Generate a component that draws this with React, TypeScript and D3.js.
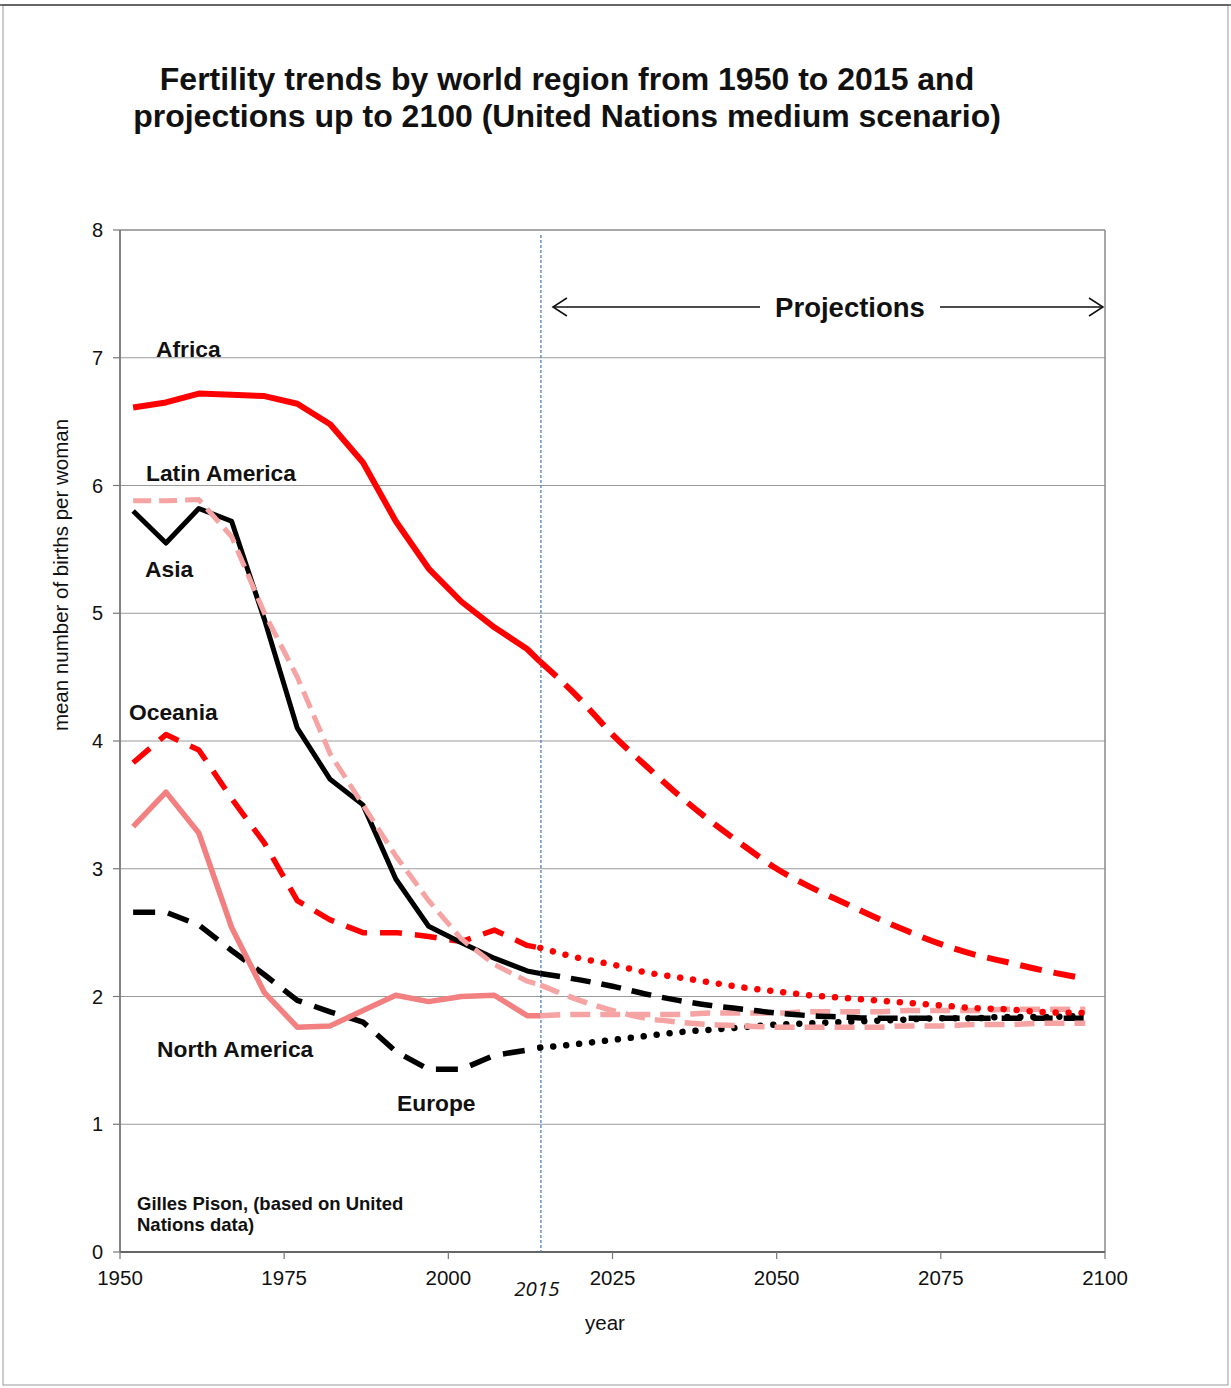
import React from "react";
import * as d3 from "d3";

// ---------- data ----------
const histYears = [1952, 1957, 1962, 1967, 1972, 1977, 1982, 1987, 1992, 1997, 2002, 2007, 2012, 2014];
const projYears = [2014, 2020, 2025, 2030, 2035, 2040, 2045, 2050, 2055, 2060, 2065, 2070, 2075, 2080, 2085, 2090, 2097];

const africaHist = [6.61, 6.65, 6.72, 6.71, 6.70, 6.64, 6.48, 6.18, 5.72, 5.35, 5.09, 4.89, 4.72, 4.62];
const africaProj = [4.62, 4.33, 4.05, 3.81, 3.58, 3.37, 3.18, 3.0, 2.86, 2.74, 2.62, 2.51, 2.41, 2.33, 2.27, 2.21, 2.14];

const latinHist = [5.88, 5.88, 5.89, 5.6, 5.0, 4.5, 3.9, 3.5, 3.1, 2.75, 2.45, 2.25, 2.12, 2.09];
const latinProj = [2.09, 1.97, 1.89, 1.83, 1.8, 1.78, 1.77, 1.76, 1.76, 1.76, 1.76, 1.77, 1.77, 1.78, 1.78, 1.79, 1.79];

const asiaHist = [5.8, 5.55, 5.82, 5.72, 4.95, 4.1, 3.7, 3.5, 2.92, 2.55, 2.42, 2.3, 2.2, 2.18];
const asiaProj = [2.18, 2.13, 2.08, 2.02, 1.97, 1.93, 1.9, 1.87, 1.85, 1.84, 1.83, 1.83, 1.83, 1.83, 1.83, 1.83, 1.83];

const oceaniaHist = [3.83, 4.05, 3.93, 3.55, 3.2, 2.75, 2.6, 2.5, 2.5, 2.47, 2.43, 2.52, 2.4, 2.38];
const oceaniaProj = [2.38, 2.3, 2.25, 2.19, 2.15, 2.11, 2.07, 2.04, 2.01, 1.99, 1.97, 1.95, 1.93, 1.91, 1.9, 1.88, 1.87];

const northAmHist = [3.33, 3.6, 3.28, 2.54, 2.03, 1.76, 1.77, 1.89, 2.01, 1.96, 2.0, 2.01, 1.85, 1.85];
const northAmProj = [1.85, 1.86, 1.86, 1.86, 1.86, 1.87, 1.87, 1.87, 1.88, 1.88, 1.88, 1.89, 1.89, 1.89, 1.9, 1.9, 1.9];

const europeHist = [2.66, 2.66, 2.56, 2.36, 2.17, 1.97, 1.88, 1.8, 1.57, 1.43, 1.43, 1.54, 1.58, 1.6];
const europeProj = [1.6, 1.63, 1.66, 1.69, 1.72, 1.74, 1.76, 1.78, 1.79, 1.8, 1.81, 1.82, 1.83, 1.83, 1.84, 1.84, 1.85];

const xTicks = [1950, 1975, 2000, 2025, 2050, 2075, 2100];
const yTicks = [0, 1, 2, 3, 4, 5, 6, 7, 8];
const divideYear = 2014.1;

// ---------- layout ----------
const W = 1231;
const H = 1388;
const left = 120;
const right = 1105;
const top = 230;
const bottom = 1252;

const RED = "#FF0000";
const PINK_SOLID = "#F28080";
const PINK_DASH = "#F5A3A3";
const BLACK = "#000000";

type Style = { color: string; width: number; dash?: string; cap?: "round" | "butt" };

export default function App() {
  const x = d3.scaleLinear().domain([1950, 2100]).range([left, right]);
  const y = d3.scaleLinear().domain([0, 8]).range([bottom, top]);
  const line = d3
    .line<[number, number]>()
    .x((d) => x(d[0]))
    .y((d) => y(d[1]));
  const smooth = d3
    .line<[number, number]>()
    .x((d) => x(d[0]))
    .y((d) => y(d[1]))
    .curve(d3.curveMonotoneX);

  const zip = (ys: number[], vs: number[]) => ys.map((yr, i) => [yr, vs[i]] as [number, number]);

  const dotted = (color: string): Style => ({ color, width: 6.5, dash: "0.01 13", cap: "round" });

  const series: { hist: number[]; proj: number[]; h: Style; p: Style }[] = [
    { hist: europeHist, proj: europeProj, h: { color: BLACK, width: 5.5, dash: "22 13" }, p: dotted(BLACK) },
    { hist: northAmHist, proj: northAmProj, h: { color: PINK_SOLID, width: 5.5 }, p: { color: PINK_DASH, width: 5.5, dash: "20 10" } },
    { hist: oceaniaHist, proj: oceaniaProj, h: { color: RED, width: 5.5, dash: "22 13" }, p: dotted(RED) },
    { hist: asiaHist, proj: asiaProj, h: { color: BLACK, width: 5 }, p: { color: BLACK, width: 5.5, dash: "20 11" } },
    { hist: latinHist, proj: latinProj, h: { color: PINK_DASH, width: 5, dash: "18 8" }, p: { color: PINK_DASH, width: 5.5, dash: "20 10" } },
    { hist: africaHist, proj: africaProj, h: { color: RED, width: 6 }, p: { color: RED, width: 6, dash: "22 12" } },
  ];

  const font = "'Liberation Sans', Arial, sans-serif";

  const labels = [
    { t: "Africa", x: 156, y: 349 },
    { t: "Latin America", x: 146, y: 473 },
    { t: "Asia", x: 145, y: 569 },
    { t: "Oceania", x: 129, y: 712 },
    { t: "North America", x: 157, y: 1049 },
    { t: "Europe", x: 397, y: 1103 },
  ];

  return (
    <svg
      width={W}
      height={H}
      style={{ position: "absolute", left: 0, top: 0, background: "#fff" }}
      fontFamily={font}
    >
      <rect x={0} y={0} width={W} height={H} fill="#fff" />
      <rect x={3} y={5} width={1225} height={1380} fill="none" stroke="#999" strokeWidth={1} />
      <line x1={0} x2={W} y1={5} y2={5} stroke="#444" strokeWidth={1.5} />

      {/* title */}
      <text x={567} y={90} textAnchor="middle" fontSize={32} fontWeight="bold" fill="#111">
        Fertility trends by world region from 1950 to 2015 and
      </text>
      <text x={567} y={127} textAnchor="middle" fontSize={32} fontWeight="bold" fill="#111">
        projections up to 2100 (United Nations medium scenario)
      </text>

      {/* grid */}
      {yTicks.slice(1, -1).map((v) => (
        <line key={v} x1={left} x2={right} y1={y(v)} y2={y(v)} stroke="#9a9a9a" strokeWidth={1.2} />
      ))}
      <line x1={left} x2={right} y1={y(8)} y2={y(8)} stroke="#8a8a8a" strokeWidth={1.5} />
      <line x1={right} x2={right} y1={y(8)} y2={y(0)} stroke="#8a8a8a" strokeWidth={1.5} />
      <line x1={left} x2={left} y1={y(8)} y2={y(0)} stroke="#777" strokeWidth={1.8} />
      <line x1={left} x2={right} y1={y(0)} y2={y(0)} stroke="#666" strokeWidth={2} />

      {/* y ticks */}
      {yTicks.map((v) => (
        <g key={v}>
          <line x1={left - 7} x2={left} y1={y(v)} y2={y(v)} stroke="#777" strokeWidth={1.2} />
          <text x={103} y={y(v)} dy="0.35em" textAnchor="end" fontSize={20} fill="#111">
            {v}
          </text>
        </g>
      ))}
      {/* x ticks */}
      {xTicks.map((v) => (
        <g key={v}>
          <line x1={x(v)} x2={x(v)} y1={bottom} y2={bottom + 7} stroke="#777" strokeWidth={1.2} />
          <text x={x(v)} y={bottom + 33} textAnchor="middle" fontSize={20.5} fill="#111">
            {v}
          </text>
        </g>
      ))}
      <text x={x(divideYear) - 4} y={bottom + 44} textAnchor="middle" fontSize={20.5} fontStyle="italic" fontFamily="'Open Sans', 'DejaVu Sans', sans-serif" fill="#111">
        2015
      </text>
      <text x={605} y={1330} textAnchor="middle" fontSize={20.5} fill="#111">
        year
      </text>
      <text
        transform={`translate(68, ${575}) rotate(-90)`}
        textAnchor="middle"
        fontSize={20.5}
        fill="#111"
      >
        mean number of births per woman
      </text>

      {/* 2015 divider */}
      <line x1={x(divideYear)} x2={x(divideYear)} y1={235} y2={bottom} stroke="#4F81BD" strokeWidth={1.3} strokeDasharray="3 2" />

      {/* projections arrow */}
      <line x1={x(divideYear) + 12} x2={760} y1={307} y2={307} stroke="#111" strokeWidth={1.5} />
      <line x1={940} x2={right - 2} y1={307} y2={307} stroke="#111" strokeWidth={1.5} />
      <polyline points={`${x(divideYear) + 26},298 ${x(divideYear) + 12},307 ${x(divideYear) + 26},316`} fill="none" stroke="#111" strokeWidth={1.5} />
      <polyline points={`${right - 16},298 ${right - 2},307 ${right - 16},316`} fill="none" stroke="#111" strokeWidth={1.5} />
      <text x={850} y={317} textAnchor="middle" fontSize={27.5} fontWeight="bold" fill="#111">
        Projections
      </text>

      {/* series */}
      {series.map((s, i) => (
        <g key={i}>
          <path
            d={line(zip(histYears, s.hist)) || ""}
            fill="none"
            stroke={s.h.color}
            strokeWidth={s.h.width}
            strokeDasharray={s.h.dash}
            strokeLinecap={s.h.cap || "butt"}
            strokeLinejoin="round"
          />
          <path
            d={smooth(zip(projYears, s.proj)) || ""}
            fill="none"
            stroke={s.p.color}
            strokeWidth={s.p.width}
            strokeDasharray={s.p.dash}
            strokeLinecap={s.p.cap || "butt"}
            strokeLinejoin="round"
          />
        </g>
      ))}

      {/* region labels */}
      {labels.map((l) => (
        <text key={l.t} x={l.x} y={l.y} dy="0.35em" fontSize={22.8} fontWeight="bold" fill="#111">
          {l.t}
        </text>
      ))}

      {/* source */}
      <text x={137} y={1210} fontSize={18.5} fontWeight="bold" fill="#111">
        Gilles Pison, (based on United
      </text>
      <text x={137} y={1231} fontSize={18.5} fontWeight="bold" fill="#111">
        Nations data)
      </text>
    </svg>
  );
}
